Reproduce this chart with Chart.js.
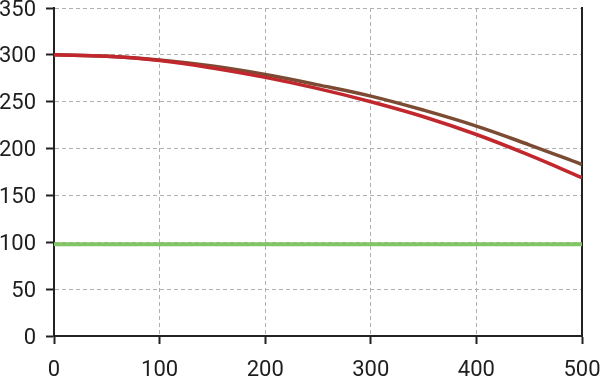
<!DOCTYPE html>
<html>
<head>
<meta charset="utf-8">
<script src="https://cdn.jsdelivr.net/npm/chart.js@4"></script>
<style>
html,body{margin:0;padding:0;background:#fff;}
#wrap{width:600px;height:376px;}
</style>
</head>
<body>
<div id="wrap"><canvas id="c" width="600" height="376"></canvas></div>
<script>
const xValues = [0, 50, 100, 150, 200, 250, 300, 350, 400, 450, 500];
const redSeries = [300, 298.5, 294, 286, 276, 264, 250, 234, 215, 193, 169];
const brownSeries = [300, 298.5, 294.5, 288, 279, 268, 256, 241, 224, 204, 183];
const greenSeries = [98, 98, 98, 98, 98, 98, 98, 98, 98, 98, 98];
const xTicks = [0, 100, 200, 300, 400, 500];
const yTicks = [0, 50, 100, 150, 200, 250, 300, 350];

const toPts = arr => xValues.map((x, i) => ({x: x, y: arr[i]}));
const font = {family: "Roboto, 'Open Sans', sans-serif", size: 22};

new Chart(document.getElementById('c'), {
  type: 'line',
  data: {
    datasets: [
      {data: toPts(redSeries), borderColor: '#c1272d', borderWidth: 3.5, pointRadius: 0, tension: 0.4, order: 1},
      {data: toPts(brownSeries), borderColor: '#7b4b33', borderWidth: 3.5, pointRadius: 0, tension: 0.4, order: 2},
      {data: toPts(greenSeries), borderColor: '#82c566', borderWidth: 4, pointRadius: 0, tension: 0, order: 3}
    ]
  },
  options: {
    responsive: false,
    animation: false,
    layout: {padding: {top: 8, right: 18, left: 0, bottom: 0}},
    plugins: {legend: {display: false}, tooltip: {enabled: false}},
    scales: {
      x: {
        type: 'linear', min: 0, max: 500,
        afterBuildTicks: s => { s.ticks = xTicks.map(v => ({value: v})); },
        afterFit: s => { s.height = 40; s.paddingLeft = 0; s.paddingRight = 0; },
        ticks: {font: font, color: '#1e1e1e', padding: 13, maxRotation: 0},
        grid: {color: '#b0b0b0', lineWidth: 1, tickLength: 8, tickColor: '#222', tickWidth: 2, tickBorderDash: []},
        border: {display: true, color: '#222', width: 2, dash: [4, 3]}
      },
      y: {
        type: 'linear', min: 0, max: 350,
        afterBuildTicks: s => { s.ticks = yTicks.map(v => ({value: v})); },
        afterFit: s => { s.width = 54; s.paddingTop = 0; s.paddingBottom = 0; },
        ticks: {font: font, color: '#1e1e1e', padding: 10, labelOffset: 2},
        grid: {color: '#b0b0b0', lineWidth: 1, tickLength: 8, tickColor: '#222', tickWidth: 2, tickBorderDash: []},
        border: {display: true, color: '#222', width: 2, dash: [4, 3]}
      },
      y2: {
        type: 'linear', position: 'right', min: 0, max: 350,
        afterFit: s => { s.width = 0; s.paddingTop = 0; s.paddingBottom = 0; },
        ticks: {display: false},
        grid: {display: false, drawTicks: false},
        border: {display: true, color: '#222', width: 2}
      }
    }
  }
});
</script>
</body>
</html>
